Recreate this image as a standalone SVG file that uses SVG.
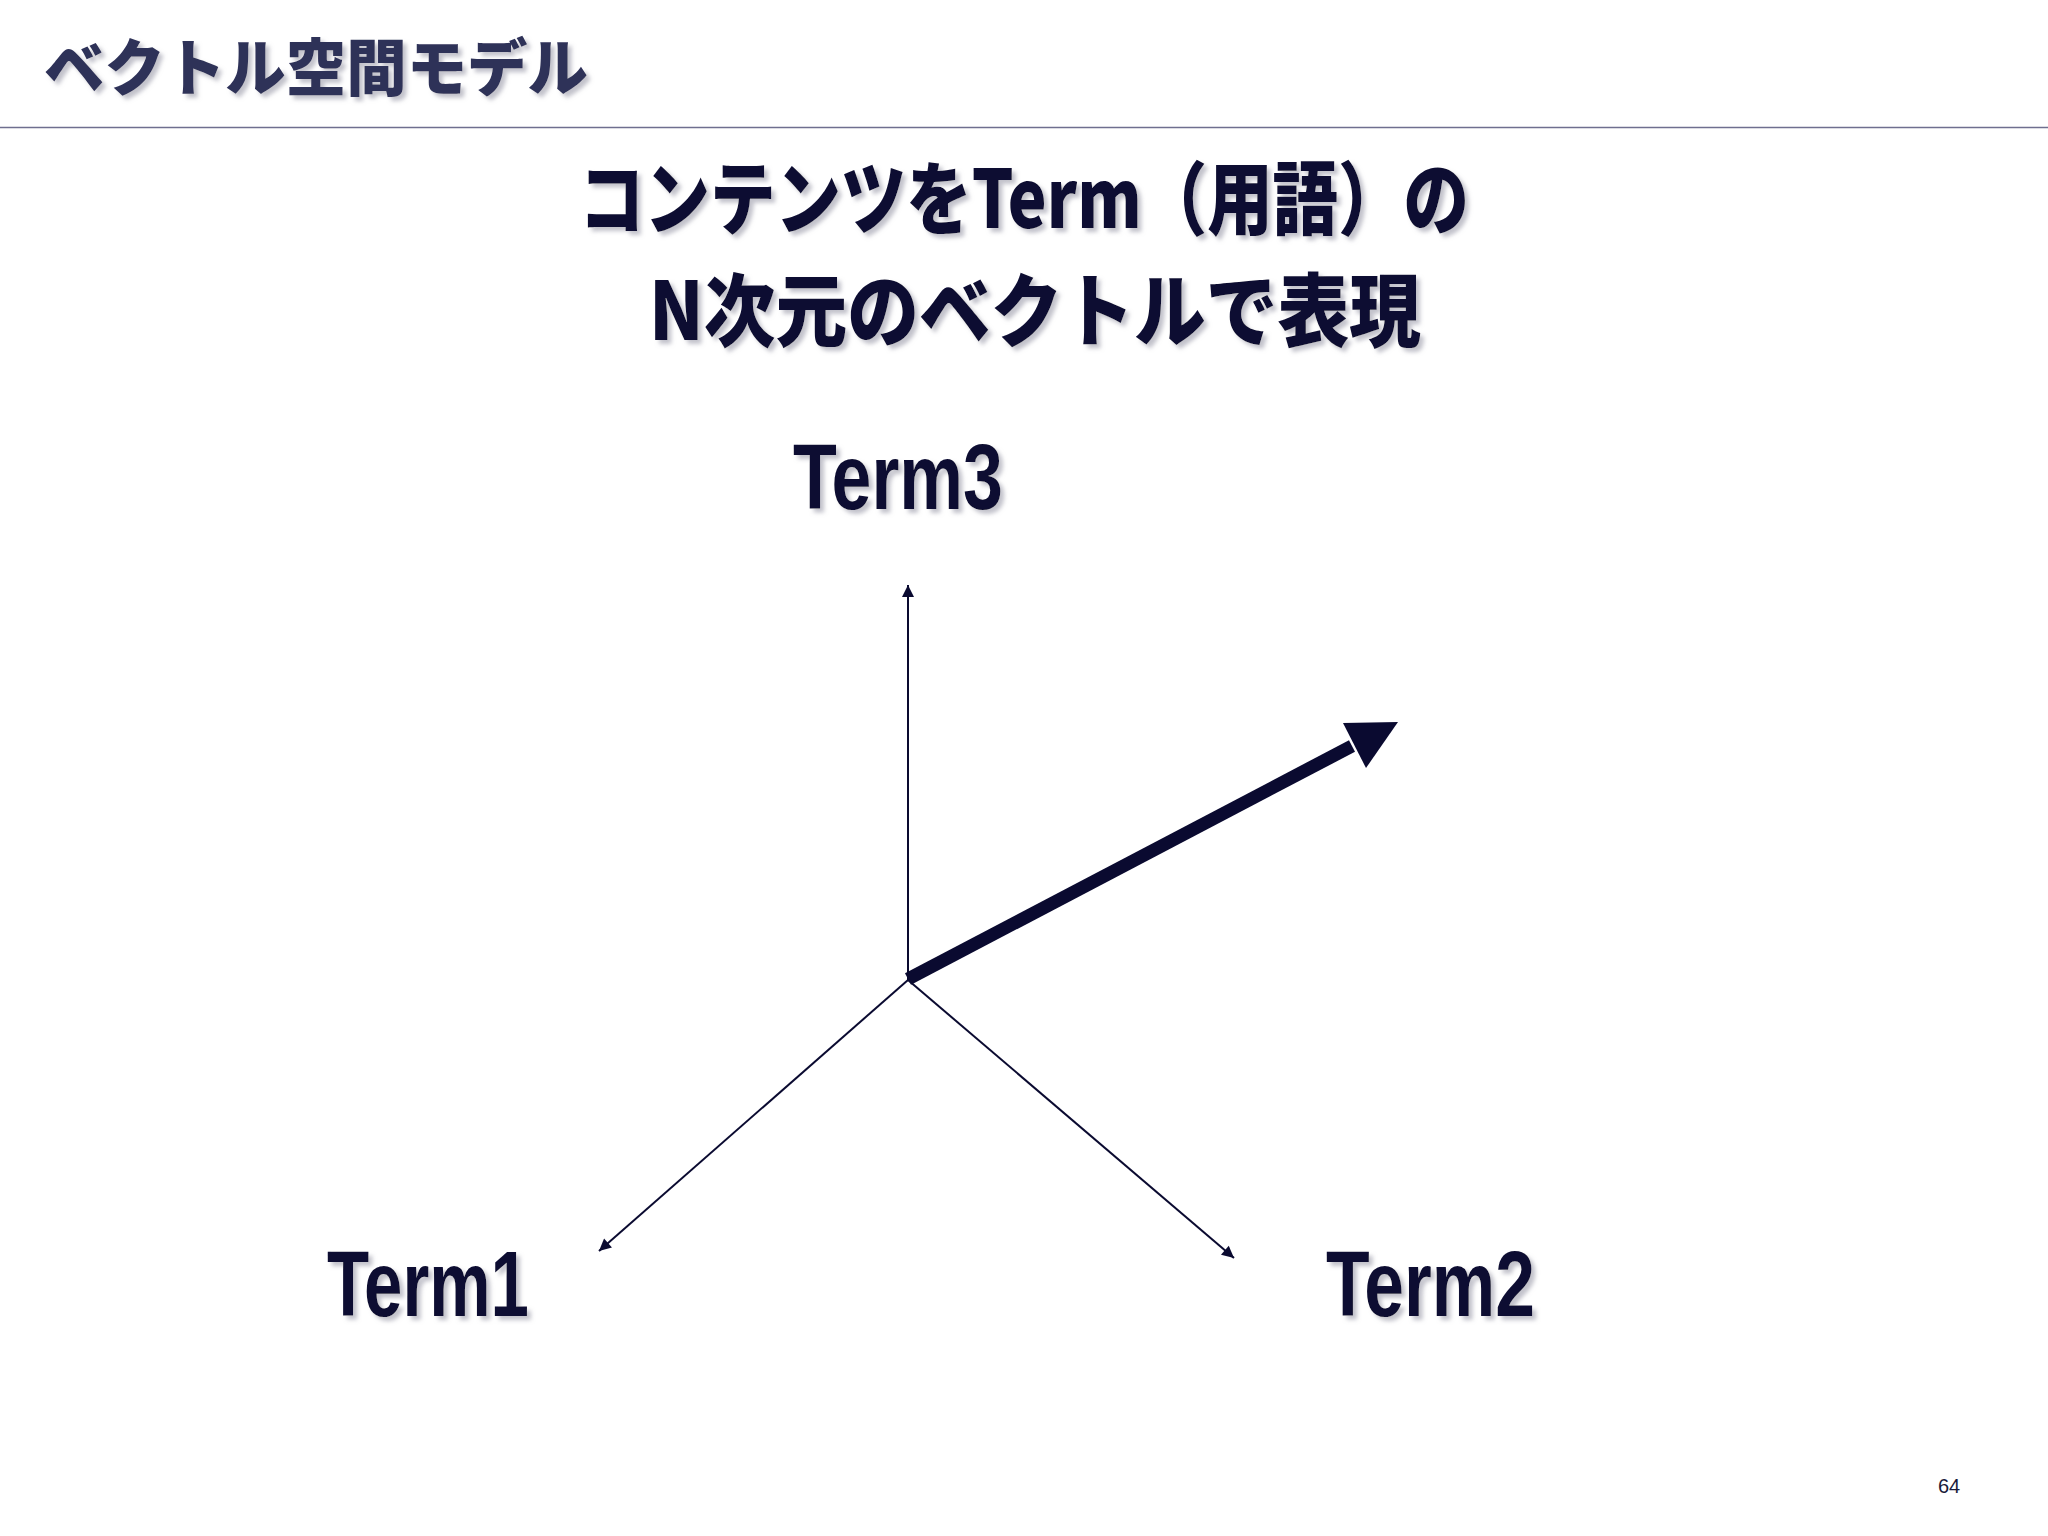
<svg xmlns="http://www.w3.org/2000/svg" width="2048" height="1536" viewBox="0 0 2048 1536">
  <defs>
    <filter id="shadow" x="-10%" y="-10%" width="120%" height="130%">
      <feDropShadow dx="4" dy="4" stdDeviation="2" flood-color="#9a9aa8" flood-opacity="0.6"/>
    </filter>
    <marker id="thinHead" viewBox="0 0 10 10" refX="10" refY="5" markerWidth="14" markerHeight="12" markerUnits="userSpaceOnUse" orient="auto">
      <path d="M0,0 L10,5 L0,10 z" fill="#0a0a30"/>
    </marker>
  </defs>
  <style>
    .jp { font-family: "Noto Sans CJK JP", "Noto Sans", sans-serif; font-weight: 900; }
    .term { font-family: "Liberation Sans", Arial, sans-serif; font-weight: bold; font-size: 92px; fill: #0a0a30; }
    .axis { stroke: #0a0a30; stroke-width: 2; fill: none; }
  </style>
  <rect width="2048" height="1536" fill="#ffffff"/>

  <g id="header">
    <text class="jp" x="44" y="91" font-size="62" fill="#2e3158" filter="url(#shadow)" textLength="544" lengthAdjust="spacingAndGlyphs">ベクトル空間モデル</text>
    <line x1="0" y1="127.5" x2="2048" y2="127.5" stroke="#6f6f8f" stroke-width="1.5"/>
  </g>

  <g id="heading" fill="#0a0a30" filter="url(#shadow)">
    <text class="jp" x="579" y="228" font-size="80" textLength="890" lengthAdjust="spacingAndGlyphs">コンテンツをTerm（用語）の</text>
    <text class="jp" x="649" y="340" font-size="80" textLength="772" lengthAdjust="spacingAndGlyphs">N次元のベクトルで表現</text>
  </g>

  <g id="term3" filter="url(#shadow)">
    <text class="term" x="793" y="509" textLength="210" lengthAdjust="spacingAndGlyphs">Term3</text>
  </g>
  <g id="term1" filter="url(#shadow)">
    <text class="term" x="327" y="1316" textLength="202" lengthAdjust="spacingAndGlyphs">Term1</text>
  </g>
  <g id="term2" filter="url(#shadow)">
    <text class="term" x="1326" y="1316" textLength="209" lengthAdjust="spacingAndGlyphs">Term2</text>
  </g>

  <g id="connectors">
    <line class="axis" x1="908" y1="980" x2="908" y2="585" marker-end="url(#thinHead)"/>
    <line class="axis" x1="908" y1="980" x2="599" y2="1251" marker-end="url(#thinHead)"/>
    <line class="axis" x1="908" y1="980" x2="1234" y2="1258" marker-end="url(#thinHead)"/>
    <g id="vector">
      <line x1="908" y1="979" x2="1352" y2="746" stroke="#0a0a30" stroke-width="13"/>
      <polygon points="1398,722 1343,723 1366,768" fill="#0a0a30"/>
    </g>
  </g>

  <text id="page" x="1949" y="1493" font-family="Liberation Sans, Arial, sans-serif" font-size="20" fill="#1a1a3a" text-anchor="middle">64</text>
</svg>
